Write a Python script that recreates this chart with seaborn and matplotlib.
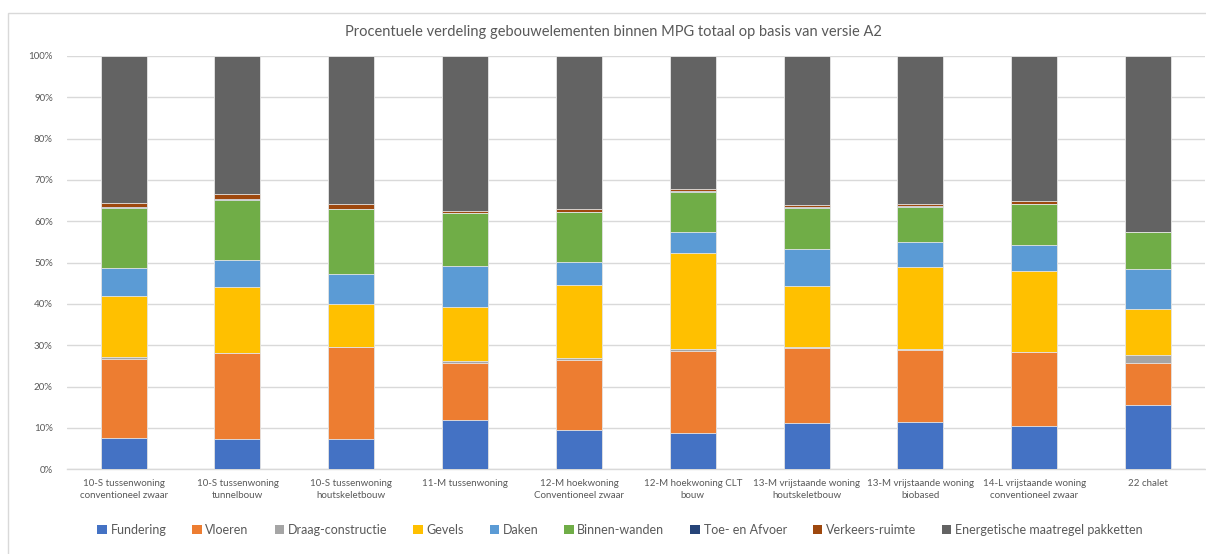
import matplotlib
matplotlib.use("Agg")
import matplotlib.pyplot as plt
from matplotlib.patches import Patch, Rectangle
from matplotlib.ticker import FuncFormatter
import numpy as np
import pandas as pd
import seaborn as sns

# --- data -----------------------------------------------------------------
categories = [
    "10-S tussenwoning\nconventioneel zwaar",
    "10-S tussenwoning\ntunnelbouw",
    "10-S tussenwoning\nhoutskeletbouw",
    "11-M tussenwoning",
    "12-M hoekwoning\nConventioneel zwaar",
    "12-M hoekwoning CLT\nbouw",
    "13-M vrijstaande woning\nhoutskeletbouw",
    "13-M vrijstaande woning\nbiobased",
    "14-L vrijstaande woning\nconventioneel zwaar",
    "22 chalet",
]

series_names = [
    "Fundering", "Vloeren", "Draag-constructie", "Gevels", "Daken",
    "Binnen-wanden", "Toe- en Afvoer", "Verkeers-ruimte",
    "Energetische maatregel pakketten",
]

fundering = [7.5, 7.4, 7.4, 11.9, 9.5, 8.7, 11.2, 11.5, 10.4, 15.5]
vloeren = [19.2, 20.7, 22.2, 13.8, 17.0, 20.0, 18.1, 17.3, 17.9, 10.1]
draag_constructie = [0.5, 0.1, 0.1, 0.6, 0.4, 0.3, 0.3, 0.2, 0.2, 2.0]
gevels = [14.7, 15.8, 10.4, 12.9, 17.7, 23.3, 14.8, 20.0, 19.5, 11.2]
daken = [6.8, 6.7, 7.2, 10.1, 5.6, 5.0, 8.8, 5.9, 6.2, 9.6]
binnen_wanden = [14.6, 14.5, 15.6, 12.7, 12.0, 9.9, 10.1, 8.6, 10.0, 8.9]
toe_en_afvoer = [0.1, 0.1, 0.2, 0.1, 0.1, 0.1, 0.1, 0.1, 0.1, 0.0]
verkeers_ruimte = [1.1, 1.2, 1.0, 0.4, 0.7, 0.5, 0.6, 0.5, 0.5, 0.1]
energetisch = [35.5, 33.5, 35.9, 37.5, 37.0, 32.2, 36.0, 35.9, 35.2, 42.6]

series_values = [
    fundering, vloeren, draag_constructie, gevels, daken,
    binnen_wanden, toe_en_afvoer, verkeers_ruimte, energetisch,
]

colors = [
    "#4472C4", "#ED7D31", "#A5A5A5", "#FFC000", "#5B9BD5",
    "#70AD47", "#264478", "#9E480E", "#636363",
]

# --- figure ---------------------------------------------------------------
sns.set_theme(style="white")
plt.rcParams["font.family"] = ["Lato", "DejaVu Sans"]

W, H = 1206, 554
fig = plt.figure(figsize=(W / 100, H / 100), dpi=100)
fig.patch.set_facecolor("white")

# light outer frame of the chart area
fig.patches.append(Rectangle((8 / W, -0.05), 1.2, (H - 13) / H + 0.05,
                             transform=fig.transFigure, fill=False,
                             edgecolor="#D9D9D9", linewidth=1.0, zorder=0))

ax = fig.add_axes([66.7 / W, 84.7 / H, (1205 - 66.7) / W, 413.3 / H])

# normalise to percentages per category
vals = np.array(series_values, dtype=float)
pct = vals / vals.sum(axis=0) * 100
cum = np.cumsum(pct, axis=0)

# layered cumulative bars: tallest first, each lower stack drawn on top
for i in range(len(series_names) - 1, -1, -1):
    df = pd.DataFrame({"categorie": categories, "waarde": cum[i]})
    sns.barplot(data=df, x="categorie", y="waarde", color=colors[i],
                saturation=1, width=0.404, edgecolor="#E6E6E6",
                linewidth=0.6, ax=ax, zorder=3)

ax.set_xlim(-0.5, len(categories) - 0.5)
ax.set_ylim(0, 100)
ax.set_yticks(np.arange(0, 101, 10))
ax.yaxis.set_major_formatter(FuncFormatter(lambda v, _: f"{v:.0f}%"))
ax.grid(axis="y", color="#D9D9D9", linewidth=1.0, zorder=0)
ax.grid(axis="x", visible=False)
ax.set_axisbelow(True)
for s in ["top", "right", "left"]:
    ax.spines[s].set_visible(False)
ax.spines["bottom"].set_color("#D9D9D9")
ax.spines["bottom"].set_linewidth(1.0)
ax.set_xlabel("")
ax.set_ylabel("")
ax.tick_params(axis="both", length=0, colors="#595959", labelsize=7)
ax.tick_params(axis="y", pad=10)
ax.tick_params(axis="x", pad=7)
for lab in ax.get_xticklabels():
    lab.set_linespacing(1.4)

fig.text(613 / W, 1 - 32 / H,
         "Procentuele verdeling gebouwelementen binnen MPG totaal op basis van versie A2",
         ha="center", va="center", fontsize=10.5, color="#595959")

handles = [Patch(facecolor=c, edgecolor="none") for c in colors]
fig.legend(handles, series_names, loc="center", ncol=9,
           bbox_to_anchor=(620 / W, 1 - 530 / H), frameon=False,
           fontsize=9, handlelength=0.75, handleheight=0.75,
           handletextpad=0.3, columnspacing=2.07, labelcolor="#595959")

fig.savefig("out.png", dpi=100, facecolor="white")
